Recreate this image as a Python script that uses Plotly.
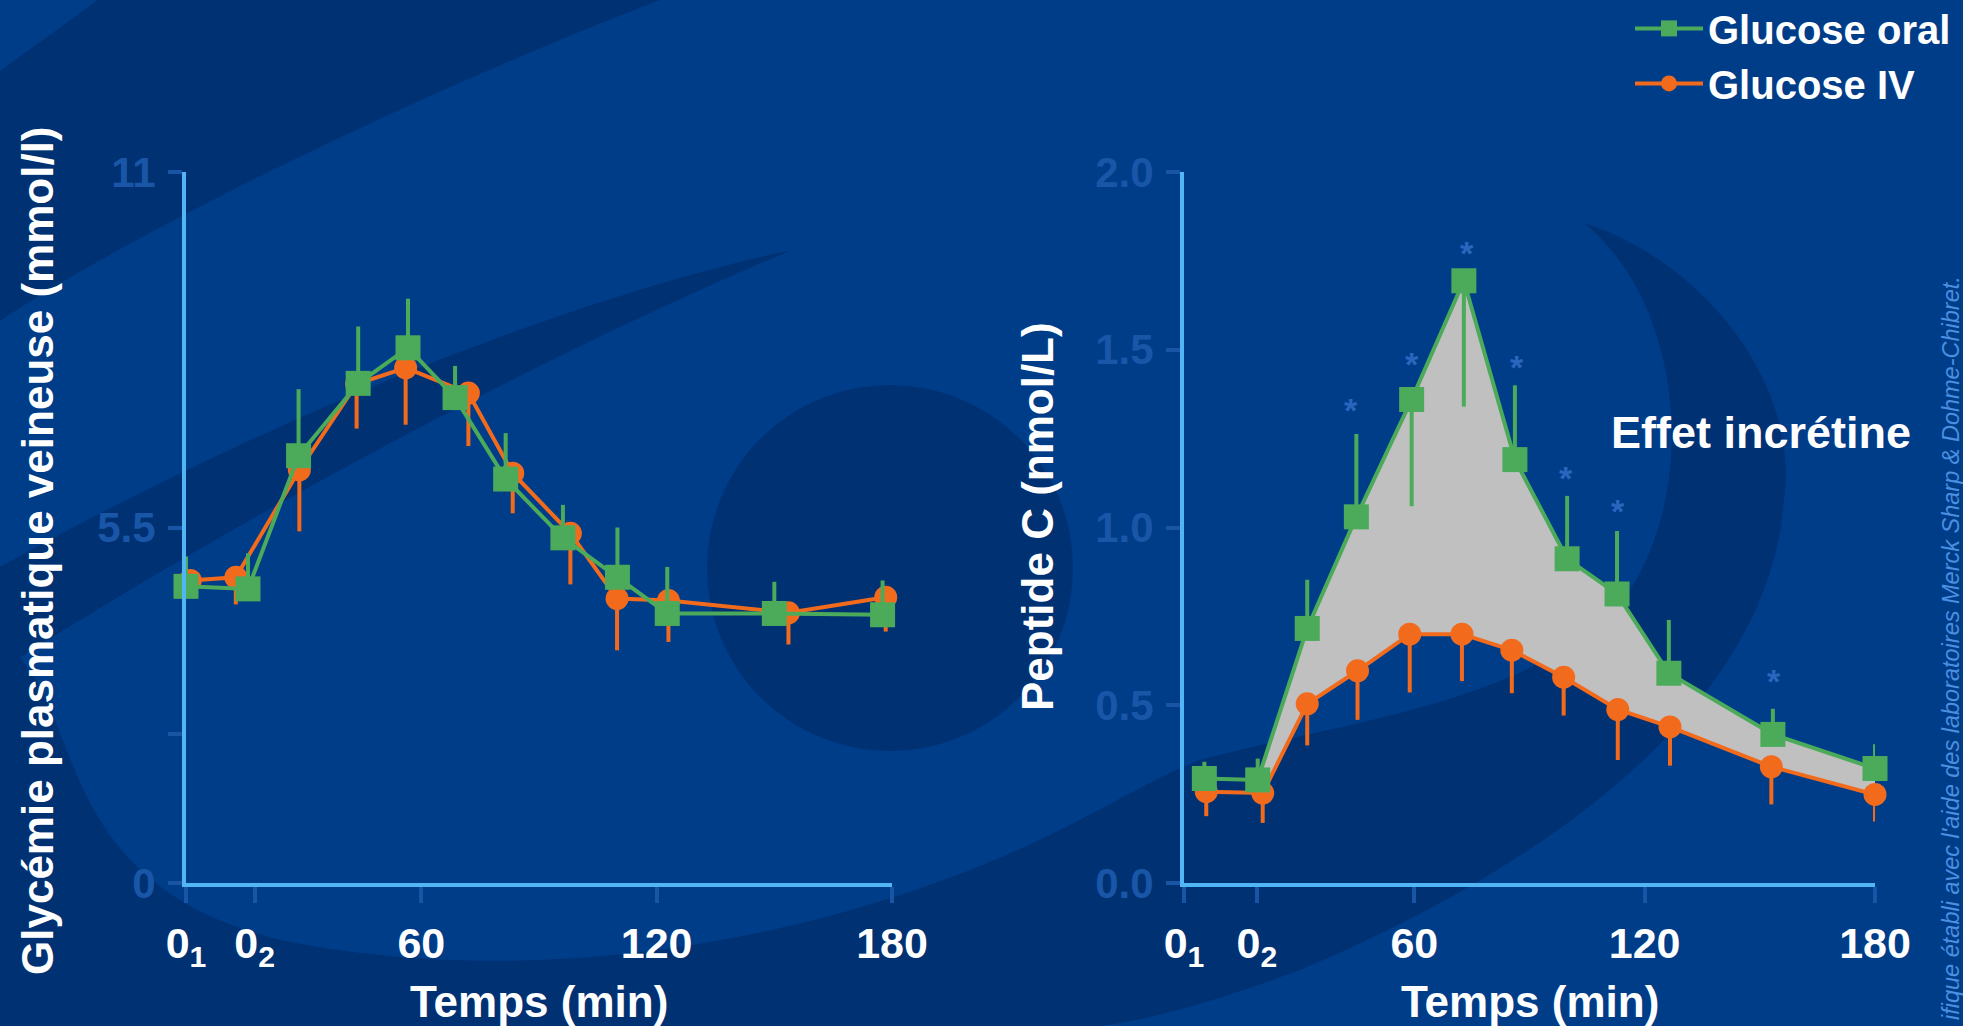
import plotly.graph_objects as go

W, H = 1963, 1026
FONT = "Liberation Sans, Arial, sans-serif"

# ---------------- data ----------------
time_ticks_left = [0, 17.5, 60, 120, 180]
time_ticks_right = [0, 19, 60, 120, 180]
time_ticktext = ["0<sub>1</sub>", "0<sub>2</sub>", "60", "120", "180"]

gly_ticks = [0, 2.3, 5.5, 11]
gly_ticktext = ["0", " ", "5.5", "11"]
pep_ticks = [0, 0.5, 1.0, 1.5, 2.0]
pep_ticktext = ["0.0", "0.5", "1.0", "1.5", "2.0"]

gly_oral_t = [0, 15.8, 28.7, 43.9, 56.6, 68.6, 81.5, 96.1, 110, 122.7, 150, 177.6]
gly_oral = [4.59, 4.55, 6.61, 7.73, 8.28, 7.51, 6.25, 5.34, 4.73, 4.17, 4.17, 4.15]
gly_oral_err_up = [0.46, 0.55, 1.03, 0.88, 0.76, 0.49, 0.71, 0.51, 0.77, 0.72, 0.49, 0.53]

gly_iv_t = [1.1, 12.7, 28.9, 43.5, 56, 72, 83.3, 98, 109.9, 123, 153.6, 178.4]
gly_iv = [4.68, 4.73, 6.39, 7.72, 7.97, 7.58, 6.34, 5.41, 4.40, 4.37, 4.18, 4.42]
gly_iv_err_down = [0.25, 0.42, 0.95, 0.69, 0.88, 0.82, 0.62, 0.79, 0.80, 0.64, 0.49, 0.53]

pep_oral_t = [5.3, 19.2, 32.1, 44.9, 59.3, 72.9, 86.2, 99.8, 112.8, 126.3, 153.4, 180]
pep_oral = [0.294, 0.290, 0.716, 1.030, 1.360, 1.694, 1.191, 0.912, 0.813, 0.590, 0.418, 0.322]
pep_oral_err_up = [0.047, 0.06, 0.137, 0.233, 0, 0, 0.209, 0.177, 0.177, 0.15, 0.072, 0.068]
pep_oral_err_down = [0, 0, 0, 0, 0.30, 0.354, 0, 0, 0, 0, 0, 0]

pep_iv_t = [5.8, 20.5, 32.1, 45.2, 58.8, 72.4, 85.4, 98.9, 113, 126.6, 153, 180]
pep_iv = [0.257, 0.253, 0.504, 0.597, 0.700, 0.700, 0.655, 0.579, 0.488, 0.439, 0.327, 0.249]
pep_iv_err_down = [0.069, 0.084, 0.117, 0.138, 0.164, 0.132, 0.121, 0.108, 0.142, 0.109, 0.106, 0.076]

signif_t = [43.6, 59.3, 73.7, 86.7, 99.5, 113, 153.8]
signif_y = [1.352, 1.483, 1.794, 1.475, 1.163, 1.070, 0.590]

series_names = ["Glucose oral", "Glucose IV"]

# ---------------- styles ----------------
BG = "#003d89"
DARK = "#003173"
GREEN = "#4cab5b"
ORANGE = "#f26b1d"
GRAY = "#c0c0c0"
AXIS = "#52b6f5"
TICK = "#1a55a5"
TICKLABEL = "#1a56a8"
STAR = "#2a66bd"


def px(x, y):
    return f"{x / W:.5f},{1 - y / H:.5f}"


def path(cmds):
    out = []
    for c, pts in cmds:
        out.append(c + " " + " ".join(px(*p) for p in pts))
    return " ".join(out) + " Z"


deco = [
    # upper-left swoosh band
    path([("M", [(0, 71)]), ("L", [(98, 0)]), ("L", [(660, 0)]),
          ("C", [(400, 100), (120, 240), (0, 321)])]),
    # thin crescent
    path([("M", [(792, 250)]), ("C", [(600, 290), (300, 400), (0, 567)]), ("L", [(0, 670)]),
          ("C", [(300, 480), (600, 330), (792, 250)])]),
    # lower / right swoosh
    path([
        ("M", [(0, 640)]),
        ("C", [(90, 700), (40, 880), (280, 940)]),
        ("C", [(550, 995), (850, 935), (1060, 830)]),
        ("C", [(1120, 800), (1160, 775), (1200, 760)]),
        ("C", [(1350, 720), (1550, 700), (1630, 590)]),
        ("C", [(1700, 480), (1680, 300), (1584, 223)]),
        ("C", [(1700, 260), (1800, 380), (1784, 500)]),
        ("C", [(1770, 700), (1560, 860), (1300, 970)]),
        ("C", [(1220, 1000), (1150, 1020), (1100, 1026)]),
        ("L", [(0, 1026)]),
    ]),
]

shapes = [dict(type="path", path=p, xref="paper", yref="paper", fillcolor=DARK,
               line=dict(width=0), layer="below") for p in deco]
cx, cy, r = 890, 568, 183
shapes.append(dict(type="circle", xref="paper", yref="paper",
                   x0=(cx - r) / W, x1=(cx + r) / W, y0=1 - (cy + r) / H, y1=1 - (cy - r) / H,
                   fillcolor=DARK, line=dict(width=0), layer="below"))

fig = go.Figure()

# ---- left panel: glycemia ----
fig.add_trace(go.Scatter(
    x=gly_iv_t, y=gly_iv, mode="lines+markers", name=series_names[1], legendrank=2,
    line=dict(color=ORANGE, width=4), marker=dict(symbol="circle", size=23, color=ORANGE),
    error_y=dict(type="data", symmetric=False, array=[0] * len(gly_iv), arrayminus=gly_iv_err_down,
                 color=ORANGE, thickness=4, width=0),
    cliponaxis=False, xaxis="x", yaxis="y"))
fig.add_trace(go.Scatter(
    x=gly_oral_t, y=gly_oral, mode="lines+markers", name=series_names[0], legendrank=1,
    line=dict(color=GREEN, width=4), marker=dict(symbol="square", size=25, color=GREEN),
    error_y=dict(type="data", symmetric=False, array=gly_oral_err_up, arrayminus=[0] * len(gly_oral),
                 color=GREEN, thickness=4, width=0),
    cliponaxis=False, xaxis="x", yaxis="y"))

# ---- right panel: C-peptide ----
fig.add_trace(go.Scatter(
    x=pep_iv_t[1:], y=pep_iv[1:], mode="lines", line=dict(width=0, color=GRAY),
    showlegend=False, hoverinfo="skip", xaxis="x2", yaxis="y2"))
fig.add_trace(go.Scatter(
    x=pep_oral_t[1:], y=pep_oral[1:], mode="lines", line=dict(width=0, color=GRAY),
    fill="tonexty", fillcolor=GRAY, showlegend=False, hoverinfo="skip", xaxis="x2", yaxis="y2"))
fig.add_trace(go.Scatter(
    x=pep_iv_t, y=pep_iv, mode="lines+markers", name=series_names[1], showlegend=False,
    line=dict(color=ORANGE, width=4), marker=dict(symbol="circle", size=23, color=ORANGE),
    error_y=dict(type="data", symmetric=False, array=[0] * len(pep_iv), arrayminus=pep_iv_err_down,
                 color=ORANGE, thickness=4, width=0),
    cliponaxis=False, xaxis="x2", yaxis="y2"))
fig.add_trace(go.Scatter(
    x=pep_oral_t, y=pep_oral, mode="lines+markers", name=series_names[0], showlegend=False,
    line=dict(color=GREEN, width=4), marker=dict(symbol="square", size=25, color=GREEN),
    error_y=dict(type="data", symmetric=False, array=pep_oral_err_up, arrayminus=pep_oral_err_down,
                 color=GREEN, thickness=4, width=0),
    cliponaxis=False, xaxis="x2", yaxis="y2"))

annotations = []
for t, v in zip(signif_t, signif_y):
    annotations.append(dict(x=t, y=v, xref="x2", yref="y2", text="*", showarrow=False,
                            font=dict(family=FONT, size=34, color=STAR, weight="bold"), yshift=-8))

title_font = dict(family=FONT, size=44, color="white", weight="bold")
annotations += [
    dict(x=539 / W, y=1 - 1001 / H, xref="paper", yref="paper", text="Temps (min)",
         showarrow=False, font=title_font, xanchor="center", yanchor="middle"),
    dict(x=1530 / W, y=1 - 1001 / H, xref="paper", yref="paper", text="Temps (min)",
         showarrow=False, font=title_font, xanchor="center", yanchor="middle"),
    dict(x=37 / W, y=1 - 551 / H, xref="paper", yref="paper",
         text="Glycémie plasmatique veineuse (mmol/l)", textangle=-90,
         showarrow=False, font=title_font, xanchor="center", yanchor="middle"),
    dict(x=1037 / W, y=1 - 517 / H, xref="paper", yref="paper",
         text="Peptide C (nmol/L)", textangle=-90,
         showarrow=False, font=title_font, xanchor="center", yanchor="middle"),
    dict(x=1761 / W, y=1 - 432 / H, xref="paper", yref="paper", text="Effet incrétine",
         showarrow=False, font=dict(family=FONT, size=45, color="white", weight="bold"),
         xanchor="center", yanchor="middle"),
    dict(x=1951 / W, y=1 - 274 / H, xref="paper", yref="paper",
         text="ifique établi avec l'aide des laboratoires Merck Sharp &amp; Dohme-Chibret.",
         textangle=-90, showarrow=False,
         font=dict(family=FONT, size=23.5, color="#4a8fe0", style="italic"),
         xanchor="center", yanchor="top"),
]

tickfont_x = dict(family=FONT, size=43, color="white", weight="bold")
tickfont_y = dict(family=FONT, size=42, color=TICKLABEL, weight="bold")


def xaxis(domain, tickvals):
    return dict(domain=domain, range=[0, 180], tickmode="array", tickvals=tickvals,
                ticktext=time_ticktext, showline=True, linecolor=AXIS, linewidth=4,
                ticks="outside", ticklen=16, tickwidth=4, tickcolor=TICK,
                tickfont=tickfont_x, ticklabelstandoff=3, showgrid=False, zeroline=False,
                fixedrange=True, automargin=False)


def yaxis(domain, rng, tickvals, ticktext, anchor):
    return dict(domain=domain, range=rng, tickmode="array", tickvals=tickvals, ticktext=ticktext,
                showline=True, linecolor=AXIS, linewidth=4, ticks="outside", ticklen=14,
                tickwidth=4, tickcolor=TICK, tickfont=tickfont_y, ticklabelstandoff=4,
                showgrid=False, zeroline=False, anchor=anchor, fixedrange=True, automargin=False)


ydom = [1 - 883 / H, 1 - 172 / H]
fig.update_layout(
    width=W, height=H, margin=dict(l=0, r=0, t=0, b=0, autoexpand=False),
    paper_bgcolor=BG, plot_bgcolor="rgba(0,0,0,0)",
    xaxis=dict(xaxis([186 / W, 892 / W], time_ticks_left), anchor="y"),
    yaxis=yaxis(ydom, [0, 11], gly_ticks, gly_ticktext, "x"),
    xaxis2=dict(xaxis([1184 / W, 1875 / W], time_ticks_right), anchor="y2"),
    yaxis2=yaxis(ydom, [0, 2], pep_ticks, pep_ticktext, "x2"),
    shapes=shapes, annotations=annotations,
    showlegend=True,
    legend=dict(x=1630 / W, xanchor="left", y=1.004, yanchor="top", bgcolor="rgba(0,0,0,0)",
                font=dict(family=FONT, size=40, color="white", weight="bold"),
                traceorder="normal", itemwidth=68, tracegroupgap=0),
)

fig.write_html("out.html", config={"displayModeBar": False},
               post_script="document.body.style.margin='0';document.body.style.overflow='hidden';")
